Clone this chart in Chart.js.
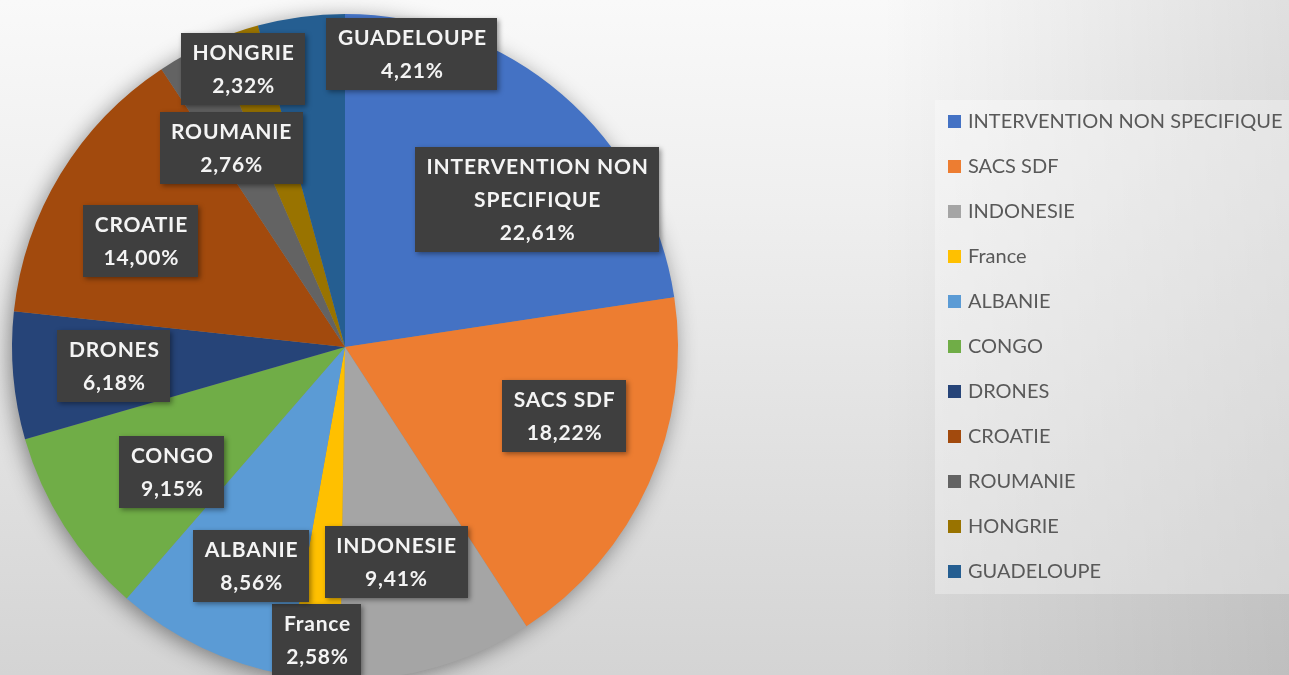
<!DOCTYPE html>
<html>
<head>
<meta charset="utf-8">
<script src="https://cdn.jsdelivr.net/npm/chart.js@4/dist/chart.umd.min.js"></script>
<style>
html,body{margin:0;padding:0;overflow:hidden;width:1289px;height:675px;background:#e6e6e6;}
canvas{display:block;}
</style>
</head>
<body>
<canvas id="c" width="1289" height="700"></canvas>
<script>
const categories = ['INTERVENTION NON SPECIFIQUE','SACS SDF','INDONESIE','France','ALBANIE','CONGO','DRONES','CROATIE','ROUMANIE','HONGRIE','GUADELOUPE'];
const shares = [22.61, 18.22, 9.41, 2.58, 8.56, 9.15, 6.18, 14.00, 2.76, 2.32, 4.21];
const sliceColors = ['#4472C4','#ED7D31','#A5A5A5','#FFC000','#5B9BD5','#70AD47','#264478','#A24A0D','#636363','#997300','#255E91'];
// label anchor positions, as fractions of the pie radius from its centre
const labelAnchors = [[0.577,-0.444],[0.658,0.207],[0.153,0.646],[-0.084,0.880],[-0.282,0.658],[-0.520,0.375],[-0.694,0.057],[-0.613,-0.318],[-0.342,-0.598],[-0.306,-0.835],[0.201,-0.880]];

const FONT_LBL = 'bold 21px Lato, "Open Sans", sans-serif';
const FONT_LEG = '20px Lato, "Open Sans", sans-serif';

function wrap(ctx, text, maxW){
  const words = text.split(' ');
  const lines = [];
  let cur = '';
  for (const w of words){
    const t = cur ? cur + ' ' + w : w;
    if (cur && ctx.measureText(t).width > maxW){ lines.push(cur); cur = w; }
    else cur = t;
  }
  if (cur) lines.push(cur);
  return lines;
}

const bgPlugin = {
  id: 'bg',
  beforeDraw(chart){
    const ctx = chart.ctx, W = chart.width, H = chart.height;
    ctx.save();
    const g = ctx.createLinearGradient(0, 0, 0, 675);
    g.addColorStop(0, '#f9f9f9');
    g.addColorStop(0.3, '#efefef');
    g.addColorStop(1, '#d4d4d4');
    ctx.fillStyle = g;
    ctx.fillRect(0, 0, W, H);
    const h = ctx.createLinearGradient(880, 0, 1289, 0);
    h.addColorStop(0, 'rgba(0,0,0,0)');
    h.addColorStop(1, 'rgba(0,0,0,0.10)');
    ctx.fillStyle = h;
    ctx.fillRect(0, 0, W, H);
    // legend panel
    ctx.fillStyle = 'rgba(255,255,255,0.3)';
    ctx.fillRect(935, 100, 360, 494);
    ctx.restore();
  },
  beforeDatasetsDraw(chart){
    const a = chart.getDatasetMeta(0).data[0];
    if (!a) return;
    const ctx = chart.ctx;
    ctx.save();
    ctx.shadowColor = 'rgba(0,0,0,0.45)';
    ctx.shadowBlur = 22;
    ctx.shadowOffsetX = -3;
    ctx.shadowOffsetY = 4;
    ctx.fillStyle = '#888';
    ctx.beginPath();
    ctx.arc(a.x, a.y, a.outerRadius - 1, 0, Math.PI * 2);
    ctx.fill();
    ctx.restore();
  },
  afterDatasetsDraw(chart){
    const ctx = chart.ctx;
    const meta = chart.getDatasetMeta(0);
    ctx.save();
    ctx.font = FONT_LBL;
    ctx.letterSpacing = '0.8px';
    ctx.textAlign = 'center';
    ctx.textBaseline = 'middle';
    const lh = 33;
    meta.data.forEach((arc, i) => {
      const R = arc.outerRadius;
      const cx = arc.x + labelAnchors[i][0] * R;
      const cy = arc.y + labelAnchors[i][1] * R;
      const lines = wrap(ctx, chart.data.labels[i], 250);
      lines.push(chart.data.datasets[0].data[i].toFixed(2).replace('.', ',') + '%');
      let w = 0;
      lines.forEach(l => { w = Math.max(w, ctx.measureText(l).width); });
      const bw = w + 22, bh = lines.length * lh + 6;
      ctx.save();
      ctx.shadowColor = 'rgba(0,0,0,0.4)';
      ctx.shadowBlur = 5;
      ctx.shadowOffsetX = 2;
      ctx.shadowOffsetY = 2;
      ctx.fillStyle = '#3f3f3f';
      ctx.fillRect(Math.round(cx - bw / 2), Math.round(cy - bh / 2), Math.round(bw), Math.round(bh));
      ctx.restore();
      ctx.fillStyle = '#f4f4f4';
      lines.forEach((l, k) => {
        ctx.fillText(l, cx + 0.5, cy - (lines.length - 1) * lh / 2 + k * lh + 1);
      });
    });
    ctx.restore();
  },
  afterDraw(chart){
    const ctx = chart.ctx;
    ctx.save();
    ctx.font = FONT_LEG;
    ctx.textBaseline = 'middle';
    ctx.textAlign = 'left';
    chart.data.labels.forEach((lab, i) => {
      const y = 121 + i * 45;
      ctx.fillStyle = chart.data.datasets[0].backgroundColor[i];
      ctx.fillRect(948, y - 6, 13, 13);
      ctx.fillStyle = '#595959';
      ctx.fillText(lab, 968, y + 1);
    });
    ctx.restore();
  }
};

new Chart(document.getElementById('c'), {
  type: 'pie',
  data: {
    labels: categories,
    datasets: [{
      data: shares,
      backgroundColor: sliceColors,
      borderWidth: 0,
      hoverOffset: 0
    }]
  },
  options: {
    responsive: false,
    devicePixelRatio: 1,
    animation: false,
    layout: { padding: { left: 12, top: 14, right: 611, bottom: 20 } },
    plugins: { legend: { display: false }, tooltip: { enabled: false } }
  },
  plugins: [bgPlugin]
});
</script>
</body>
</html>
